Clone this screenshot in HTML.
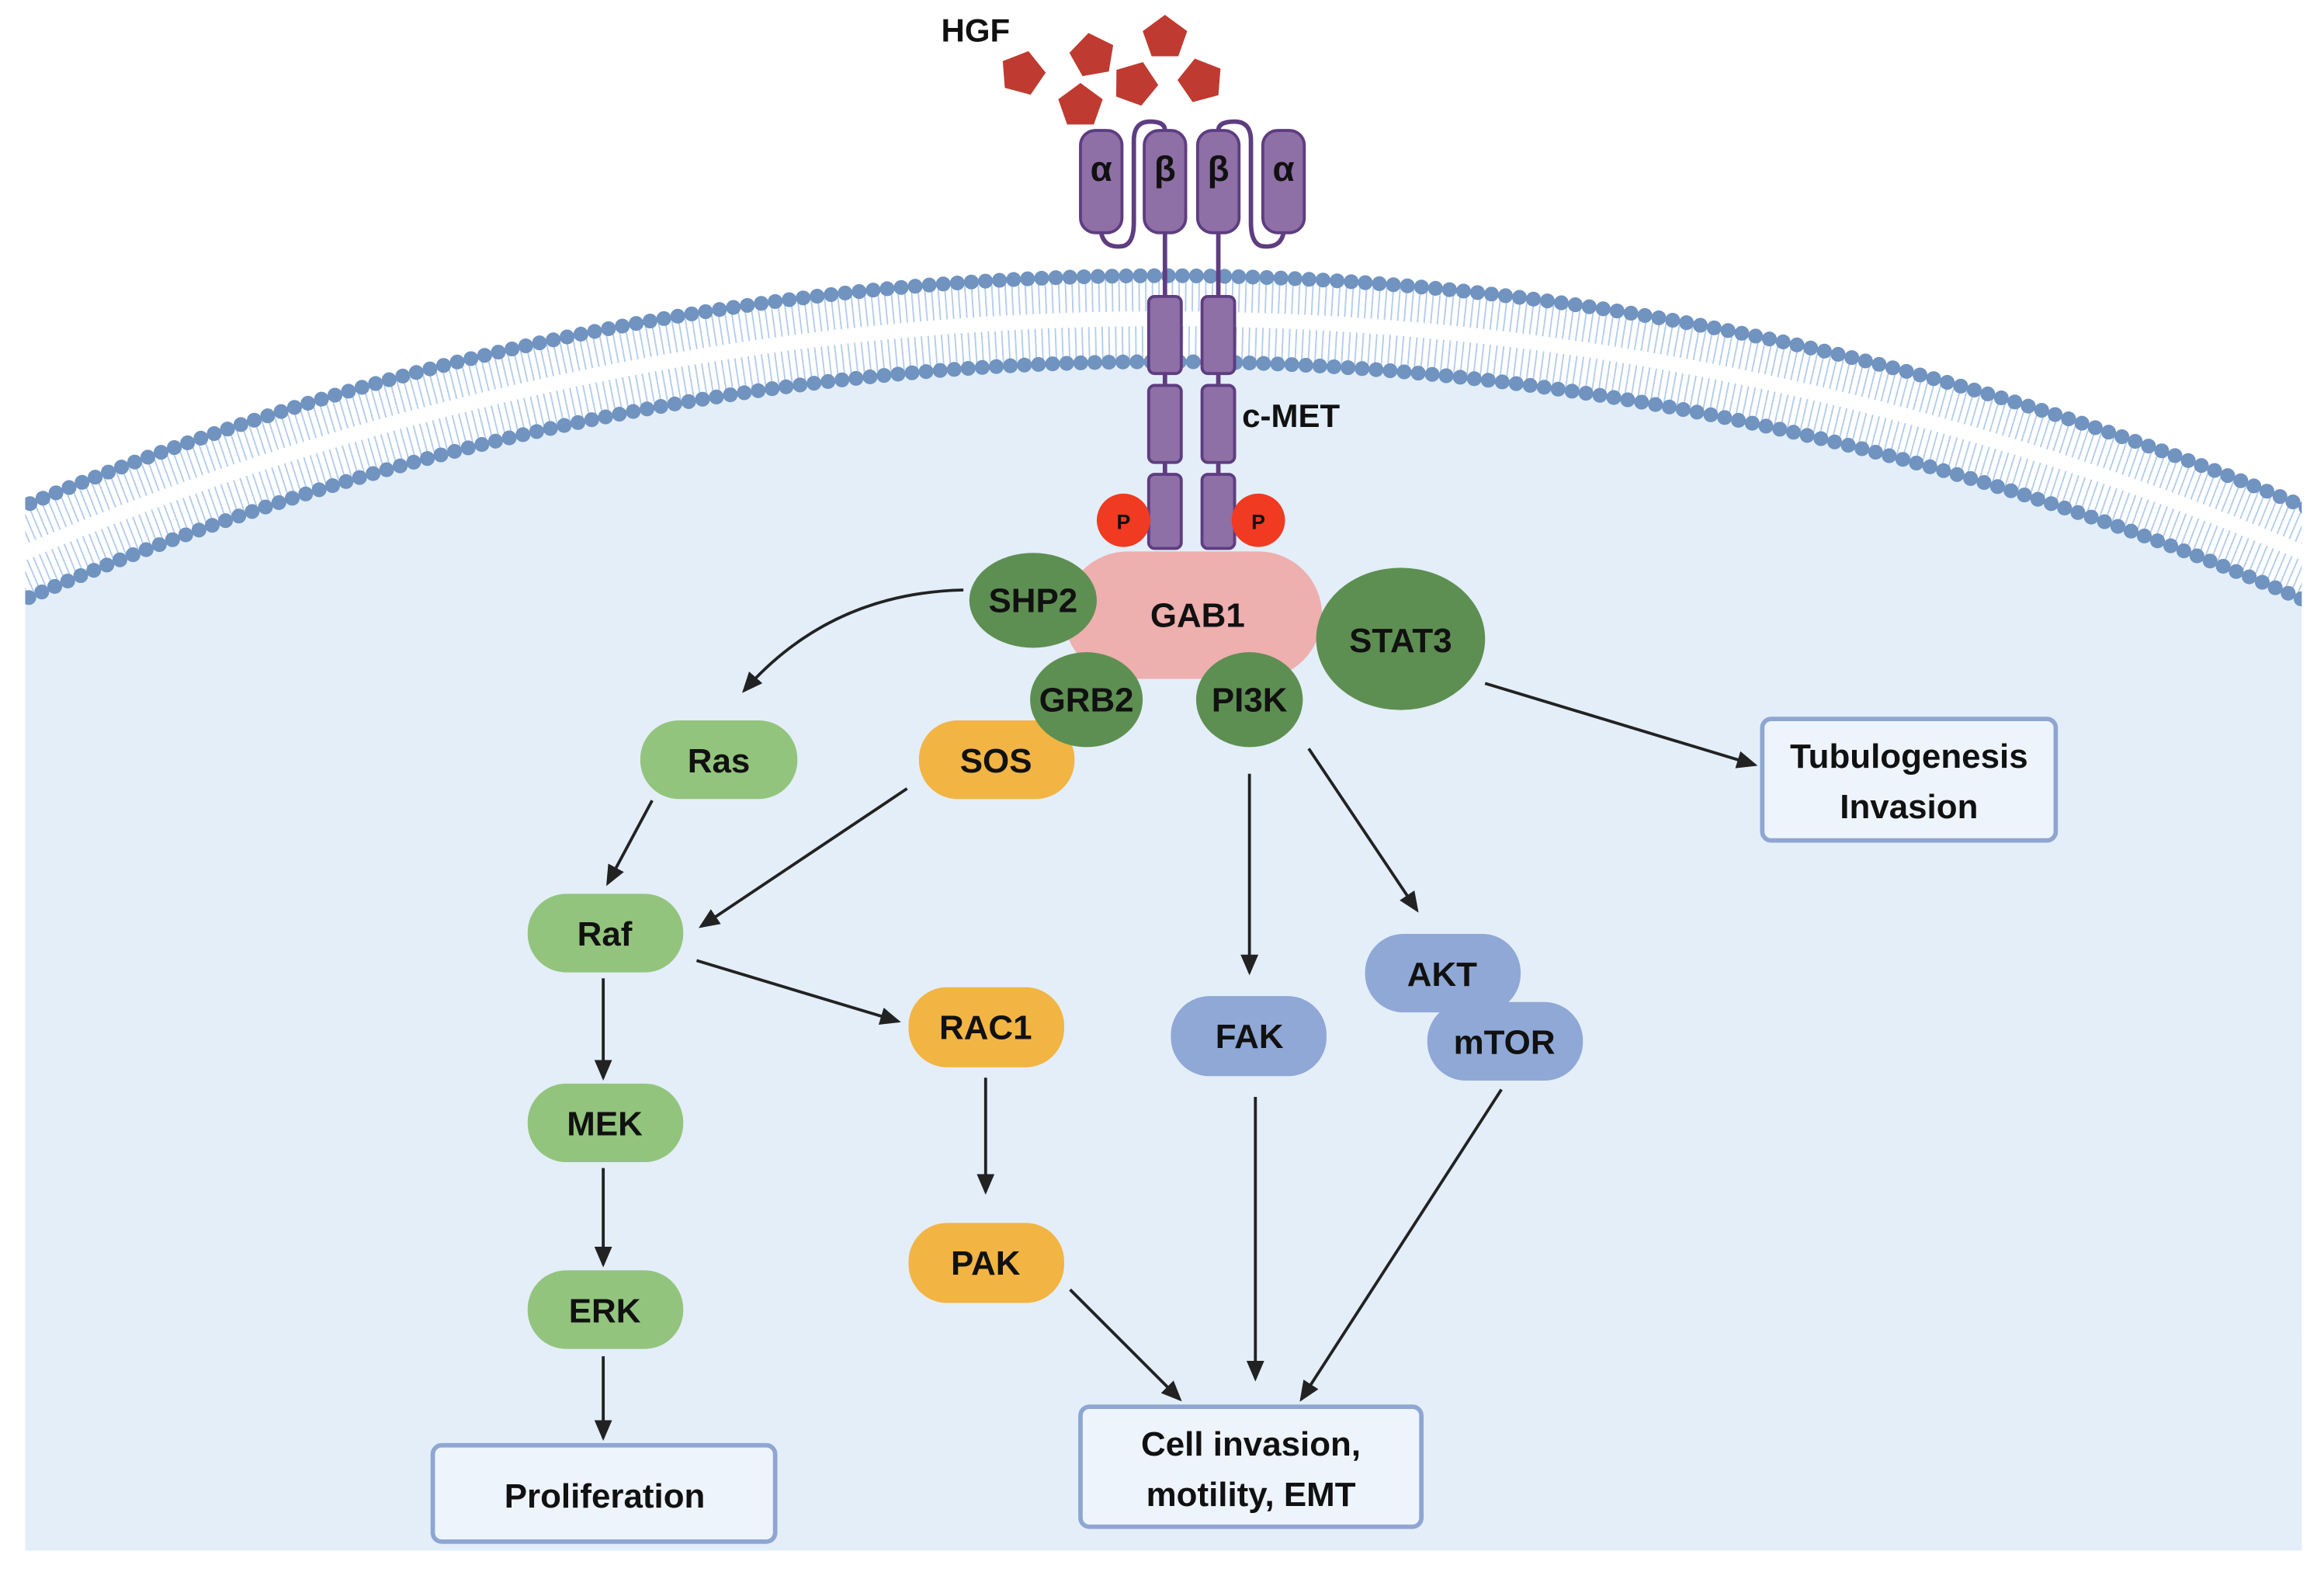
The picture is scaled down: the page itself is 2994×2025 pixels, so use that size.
<!DOCTYPE html>
<html><head><meta charset="utf-8"><style>
html,body{margin:0;padding:0;background:#fff;width:2994px;height:2025px;overflow:hidden}
svg{display:block}
text{font-family:"Liberation Sans",sans-serif;font-weight:bold;fill:#111}
</style></head><body>
<svg width="2994" height="2025" viewBox="0 0 1568 1060.5" preserveAspectRatio="none" xmlns="http://www.w3.org/2000/svg">
<defs>
<marker id="ah" markerWidth="14" markerHeight="12" refX="12" refY="6" orient="auto" markerUnits="userSpaceOnUse">
<path d="M0,0 L14,6 L0,12 z" fill="#222"/></marker>
<clipPath id="cell"><rect x="17" y="0" width="1536" height="1046"/></clipPath>
</defs>
<g clip-path="url(#cell)">
<circle cx="785" cy="2165" r="1920" fill="#e3eef9"/>
<rect x="0" y="900" width="1568" height="146" fill="#e3eef9"/>
<circle cx="785" cy="2165" r="1950" fill="none" stroke="#fff" stroke-width="60"/>
<circle cx="785" cy="2165" r="1966" fill="none" stroke="#b4cdee" stroke-width="22" stroke-dasharray="1 3.5"/>
<circle cx="785" cy="2165" r="1934" fill="none" stroke="#b4cdee" stroke-width="22" stroke-dasharray="1 3.5"/>
<circle cx="785" cy="2165" r="1950" fill="none" stroke="#fff" stroke-width="2"/>
<circle cx="785" cy="2165" r="1979" fill="none" stroke="#7093c0" stroke-width="10" stroke-linecap="round" stroke-dasharray="0 9.5"/>
<circle cx="785" cy="2165" r="1921" fill="none" stroke="#7093c0" stroke-width="10" stroke-linecap="round" stroke-dasharray="0 9.5"/>
</g>
<text x="635" y="28" font-size="22">HGF</text>
<g fill="#bf3a30">
<polygon points="690,34 705,45 699,62 681,62 675,45" transform="rotate(15 690 49)"/>
<polygon points="737,22 752,33 746,50 728,50 722,33" transform="rotate(-10 737 37)"/>
<polygon points="786,10 801,21 795,38 777,38 771,21"/>
<polygon points="766,41 781,52 775,69 757,69 751,52" transform="rotate(20 766 56)"/>
<polygon points="729,56 744,67 738,84 720,84 714,67"/>
<polygon points="810,39 825,50 819,67 801,67 795,50" transform="rotate(-15 810 54)"/>
</g>
<g fill="none" stroke="#5e3d80" stroke-width="3">
<path d="M743,157 Q745,168 758,166 Q765,164 765,150 L765,95 Q765,82 776,82 Q786,82 786,88"/>
<path d="M866,157 Q864,168 851,166 Q844,164 844,150 L844,95 Q844,82 833,82 Q822,82 822,88"/>
<line x1="786" y1="157" x2="786" y2="200"/>
<line x1="822" y1="157" x2="822" y2="200"/>
<line x1="786" y1="252" x2="786" y2="260"/><line x1="786" y1="312" x2="786" y2="320"/>
<line x1="822" y1="252" x2="822" y2="260"/><line x1="822" y1="312" x2="822" y2="320"/>
</g>
<g fill="#8e6fa6" stroke="#5e3d80" stroke-width="2">
<rect x="729" y="88" width="28" height="69" rx="10"/>
<rect x="772" y="88" width="28" height="69" rx="10"/>
<rect x="808" y="88" width="28" height="69" rx="10"/>
<rect x="852" y="88" width="28" height="69" rx="10"/>
<rect x="775" y="200" width="22" height="52" rx="4"/>
<rect x="775" y="260" width="22" height="52" rx="4"/>
<rect x="775" y="320" width="22" height="50" rx="4"/>
<rect x="811" y="200" width="22" height="52" rx="4"/>
<rect x="811" y="260" width="22" height="52" rx="4"/>
<rect x="811" y="320" width="22" height="50" rx="4"/>
</g>
<g font-size="24" text-anchor="middle">
<text x="743" y="122">α</text><text x="786" y="122">β</text><text x="822" y="122">β</text><text x="866" y="122">α</text>
</g>
<text x="838" y="288" font-size="22">c-MET</text>
<circle cx="758" cy="351" r="18" fill="#f03a22"/>
<circle cx="849" cy="351" r="18" fill="#f03a22"/>
<text x="758" y="357" font-size="14" text-anchor="middle">P</text>
<text x="849" y="357" font-size="14" text-anchor="middle">P</text>
<rect x="718" y="372" width="174" height="86" rx="43" fill="#eeafaf"/>
<g fill="#5e8f52">
<ellipse cx="697" cy="405" rx="43" ry="32"/>
<ellipse cx="945" cy="431" rx="57" ry="48"/>
</g>
<g>
<rect x="620" y="486" width="105" height="53" rx="26" fill="#f2b443"/>
<rect x="432" y="486" width="106" height="53" rx="26" fill="#93c47d"/>
<rect x="356" y="603" width="105" height="53" rx="26" fill="#93c47d"/>
<rect x="356" y="731" width="105" height="53" rx="26" fill="#93c47d"/>
<rect x="356" y="857" width="105" height="53" rx="26" fill="#93c47d"/>
<rect x="613" y="666" width="105" height="54" rx="26" fill="#f2b443"/>
<rect x="613" y="825" width="105" height="54" rx="26" fill="#f2b443"/>
<rect x="790" y="672" width="105" height="54" rx="26" fill="#8fa8d6"/>
<rect x="921" y="630" width="105" height="53" rx="26" fill="#8fa8d6"/>
<rect x="963" y="676" width="105" height="53" rx="26" fill="#8fa8d6"/>
</g>
<g fill="#5e8f52">
<ellipse cx="733" cy="472" rx="38" ry="32"/>
<ellipse cx="843" cy="472" rx="36" ry="32"/>
</g>
<g fill="#eef4fc" stroke="#8fa6d2" stroke-width="3">
<rect x="1189" y="485" width="198" height="82" rx="6"/>
<rect x="292" y="975" width="231" height="65" rx="6"/>
<rect x="729" y="949" width="230" height="81" rx="6"/>
</g>
<g font-size="23" text-anchor="middle">
<text x="808" y="423">GAB1</text>
<text x="697" y="413">SHP2</text>
<text x="945" y="440">STAT3</text>
<text x="733" y="480">GRB2</text>
<text x="843" y="480">PI3K</text>
<text x="672" y="521">SOS</text>
<text x="485" y="521">Ras</text>
<text x="408" y="638">Raf</text>
<text x="408" y="766">MEK</text>
<text x="408" y="892">ERK</text>
<text x="665" y="701">RAC1</text>
<text x="665" y="860">PAK</text>
<text x="843" y="707">FAK</text>
<text x="973" y="665">AKT</text>
<text x="1015" y="711">mTOR</text>
<text x="1288" y="518">Tubulogenesis</text>
<text x="1288" y="552">Invasion</text>
<text x="408" y="1017">Proliferation</text>
<text x="844" y="982">Cell invasion,</text>
<text x="844" y="1016">motility, EMT</text>
</g>
<g stroke="#222" stroke-width="2" fill="none" marker-end="url(#ah)">
<path d="M650,398 Q560,400 502,466"/>
<line x1="440" y1="540" x2="410" y2="596"/>
<line x1="612" y1="532" x2="473" y2="625"/>
<line x1="470" y1="648" x2="606" y2="689"/>
<line x1="407" y1="660" x2="407" y2="727"/>
<line x1="407" y1="788" x2="407" y2="853"/>
<line x1="407" y1="915" x2="407" y2="970"/>
<line x1="665" y1="727" x2="665" y2="804"/>
<line x1="722" y1="870" x2="796" y2="944"/>
<line x1="843" y1="522" x2="843" y2="656"/>
<line x1="883" y1="505" x2="956" y2="614"/>
<line x1="847" y1="740" x2="847" y2="930"/>
<line x1="1013" y1="735" x2="878" y2="944"/>
<line x1="1002" y1="461" x2="1184" y2="516"/>
</g>
</svg>
</body></html>
